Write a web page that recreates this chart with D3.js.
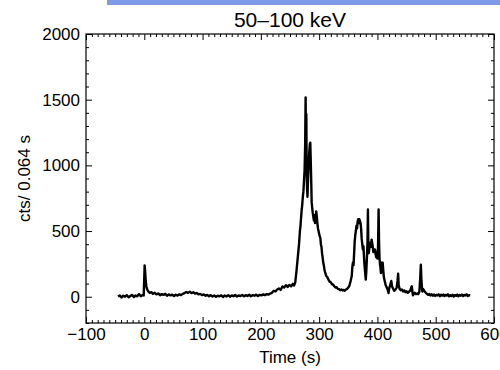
<!DOCTYPE html>
<html>
<head>
<meta charset="utf-8">
<script src="https://cdn.jsdelivr.net/npm/d3@7"></script>
<style>
  body { margin: 0; background: #fff; }
  svg { display: block; font-family: "Liberation Sans", Arial, sans-serif; }
  .tick text { font-size: 17px; fill: #000; }
</style>
</head>
<body>
<script>
// light curve, [time (s), counts]
var precursor = [
  [-45, 2], [-42, 10], [-39, -6], [-36, 8], [-33, 0], [-30, 12], [-27, -4], [-24, 6],
  [-21, 14], [-18, -2], [-15, 9], [-12, 3], [-9, 20], [-6, 4], [-3, 12], [-1, 10],
  [0, 150], [0.6, 239], [1.5, 190], [2.5, 120], [3.5, 80], [5, 55], [7, 40], [9, 30]
];
var quiet = [
  [12, 35], [15, 22], [18, 30], [21, 18], [24, 25], [27, 12], [30, 20], [33, 14],
  [36, 22], [39, 8], [42, 18], [45, 10], [48, 16], [51, 6], [54, 15], [57, 9],
  [60, 18], [63, 12], [66, 22], [69, 28], [72, 36], [75, 30], [78, 38], [81, 28],
  [84, 34], [87, 24], [90, 28], [93, 18], [96, 22], [99, 12], [102, 18], [105, 8],
  [108, 14], [111, 4], [114, 12], [117, 2], [120, 10], [123, 0], [126, 8], [129, 3],
  [132, 11], [135, -2], [138, 9], [141, 2], [144, 12], [147, 0], [150, 10], [153, 4],
  [156, 13], [159, 2], [162, 10], [165, 5], [168, 14], [171, 3], [174, 12], [177, 6],
  [180, 15], [183, 4], [186, 12], [189, 8], [192, 16], [195, 6], [198, 14], [201, 10],
  [204, 18], [207, 12], [210, 20], [213, 16], [216, 24], [219, 30], [222, 45], [225, 40],
  [228, 55], [231, 62], [234, 52], [237, 78], [240, 70], [243, 88], [246, 75], [249, 90],
  [252, 80], [255, 98], [257, 85], [259, 110]
];
var mainPulse = [
  [261, 190], [262.5, 260], [264, 330], [265.5, 400], [267, 500], [268, 540], [269, 600],
  [270, 660], [271, 700], [272, 760], [273, 800], [274, 880], [275, 960], [276, 1150],
  [276.8, 1517], [277.4, 1100], [278, 1390], [278.6, 950], [279.3, 820], [280, 760],
  [281, 900], [282, 1000], [283, 1100], [284, 1160], [284.8, 1173], [285.5, 1050],
  [286.3, 900], [287.2, 720], [288, 680], [289, 640], [290, 610], [291, 580], [292, 620],
  [293, 560], [294, 600], [295, 650], [296, 610], [297, 560], [298, 520], [299, 500],
  [300, 480], [301, 460], [302, 450], [303, 400], [304, 380], [305, 330], [306, 300],
  [307, 260], [308, 240], [309, 210], [310, 190], [312, 160], [314, 150], [316, 130],
  [318, 115], [320, 110], [322, 95], [324, 92], [326, 80], [328, 70], [330, 72],
  [332, 60], [334, 58], [336, 50], [338, 55], [340, 48], [342, 52], [344, 45],
  [346, 55], [348, 60], [350, 70], [352, 85], [354, 120]
];
var secondPulse = [
  [356, 160], [357, 230], [358, 260], [359, 240], [360, 330], [361, 420], [362, 470],
  [363, 500], [364, 540], [365, 520], [366, 570], [367, 590], [368, 560], [369, 590],
  [370, 575], [371, 560], [372, 520], [373, 440], [374, 400], [375, 360], [376, 384],
  [377, 300], [378, 230], [379, 180], [380, 130], [381, 200], [382, 300], [383, 420],
  [383.7, 664], [384.4, 380], [385, 330], [386, 360], [387, 400], [388, 412], [389, 380],
  [390, 435], [391, 410], [392, 380], [393, 340], [394, 360], [395, 340], [396, 359],
  [397, 320], [398, 300], [399, 340], [400, 290], [401, 360], [402, 664], [402.8, 420],
  [403.5, 300], [404.5, 240], [405, 231], [406, 180], [407, 220], [408, 260], [409, 259],
  [410, 200], [411, 150], [412, 130], [413, 110], [414, 90], [415, 80], [416, 70],
  [418, 50], [419, 28], [420, 60], [422, 90], [423.7, 120], [425, 80], [427, 60],
  [429, 45], [431, 55], [433, 70], [434.5, 120], [435.5, 175], [436.5, 90], [438, 60]
];
var tail = [
  [440, 50], [442, 55], [444, 40], [446, 48], [448, 35], [450, 42], [452, 30], [454, 38],
  [456, 45], [458, 70], [459, 79], [460, 40], [461, 10], [462, 25], [464, 30], [466, 20],
  [468, 25], [470, 20], [472, 40], [473.5, 150], [474.5, 244], [475.5, 120], [477, 40],
  [478, 60], [479, 55], [481, 40], [483, 30], [485, 22], [487, 14], [489, 20], [491, 10],
  [493, 18], [495, 8], [497, 16], [499, 6], [501, 14], [503, 10], [505, 18], [507, 4],
  [509, 15], [511, 8], [513, 17], [515, 5], [517, 14], [519, 9], [521, 18], [523, 3],
  [525, 12], [527, 6], [529, 15], [531, 2], [533, 12], [535, 7], [537, 16], [539, 4],
  [541, 13], [543, 8], [545, 17], [547, 5], [549, 14], [551, 10], [553, 18], [555, 6],
  [557, 12], [559, 8]
];

var xMajor = [-100, 0, 100, 200, 300, 400, 500, 600];
var yMajor = [0, 500, 1000, 1500, 2000];
var title = "50\u2013100 keV";
var xTitle = "Time (s)";
var yTitle = "cts/ 0.064 s";

var width = 500, height = 370;
var plotLeft = 86, plotRight = 494, plotTop = 34, plotBottom = 323;

var svg = d3.select("body").append("svg")
  .attr("width", width)
  .attr("height", height);

// blue strip at the top of the slide
svg.append("rect")
  .attr("x", 107).attr("y", 0)
  .attr("width", 393).attr("height", 5)
  .attr("fill", "#7f9ae6");

var x = d3.scaleLinear().domain([-100, 600]).range([plotLeft, plotRight]);
var y = d3.scaleLinear().domain([-200, 2000]).range([plotBottom, plotTop]);

var xMinor = d3.range(-100, 601, 10).filter(function(d) { return d % 100 != 0; });
var yMinor = d3.range(-200, 2001, 100).filter(function(d) { return d % 500 != 0; });

function noText() { return ""; }

// minor ticks, all four sides, pointing in
svg.append("g").attr("transform", "translate(0," + plotBottom + ")")
  .call(d3.axisTop(x).tickValues(xMinor).tickSize(3).tickFormat(noText));
svg.append("g").attr("transform", "translate(0," + plotTop + ")")
  .call(d3.axisBottom(x).tickValues(xMinor).tickSize(3).tickFormat(noText));
svg.append("g").attr("transform", "translate(" + plotLeft + ",0)")
  .call(d3.axisRight(y).tickValues(yMinor).tickSize(3).tickFormat(noText));
svg.append("g").attr("transform", "translate(" + plotRight + ",0)")
  .call(d3.axisLeft(y).tickValues(yMinor).tickSize(3).tickFormat(noText));

// major ticks
svg.append("g").attr("transform", "translate(0," + plotBottom + ")")
  .call(d3.axisTop(x).tickValues(xMajor).tickSize(6).tickFormat(noText));
svg.append("g").attr("transform", "translate(0," + plotTop + ")")
  .call(d3.axisBottom(x).tickValues(xMajor).tickSize(6).tickFormat(noText));
svg.append("g").attr("transform", "translate(" + plotLeft + ",0)")
  .call(d3.axisRight(y).tickValues(yMajor).tickSize(6).tickFormat(noText));
svg.append("g").attr("transform", "translate(" + plotRight + ",0)")
  .call(d3.axisLeft(y).tickValues(yMajor).tickSize(6).tickFormat(noText));

// tick labels
var fmt = function(d) { return d < 0 ? "\u2212" + Math.abs(d) : d; };
var xLab = svg.append("g").attr("transform", "translate(0," + plotBottom + ")")
  .call(d3.axisBottom(x).tickValues(xMajor).tickSize(0).tickPadding(5).tickFormat(fmt));
var yLab = svg.append("g").attr("transform", "translate(" + plotLeft + ",0)")
  .call(d3.axisLeft(y).tickValues(yMajor).tickSize(0).tickPadding(6).tickFormat(d3.format("d")));
xLab.select(".domain").remove();
yLab.select(".domain").remove();

svg.selectAll(".domain").attr("stroke", "none");
svg.selectAll(".tick line").attr("stroke", "#000");

// frame
svg.append("rect")
  .attr("x", plotLeft).attr("y", plotTop)
  .attr("width", plotRight - plotLeft).attr("height", plotBottom - plotTop)
  .attr("fill", "none").attr("stroke", "#000").attr("stroke-width", 1.2);

// curve
var curve = [].concat(precursor, quiet, mainPulse, secondPulse, tail);
var line = d3.line()
  .x(function(d) { return x(d[0]); })
  .y(function(d) { return y(d[1]); });

svg.append("path")
  .datum(curve)
  .attr("d", line)
  .attr("fill", "none")
  .attr("stroke", "#000")
  .attr("stroke-width", 2.4)
  .attr("stroke-linejoin", "round");

// titles
svg.append("text")
  .attr("x", (plotLeft + plotRight) / 2).attr("y", 27)
  .attr("text-anchor", "middle")
  .style("font-size", "21px")
  .text(title);

svg.append("text")
  .attr("x", (plotLeft + plotRight) / 2).attr("y", 363)
  .attr("text-anchor", "middle")
  .style("font-size", "17px")
  .text(xTitle);

svg.append("text")
  .attr("transform", "translate(30," + ((plotTop + plotBottom) / 2) + ") rotate(-90)")
  .attr("text-anchor", "middle")
  .style("font-size", "17px")
  .text(yTitle);
</script>
</body>
</html>
